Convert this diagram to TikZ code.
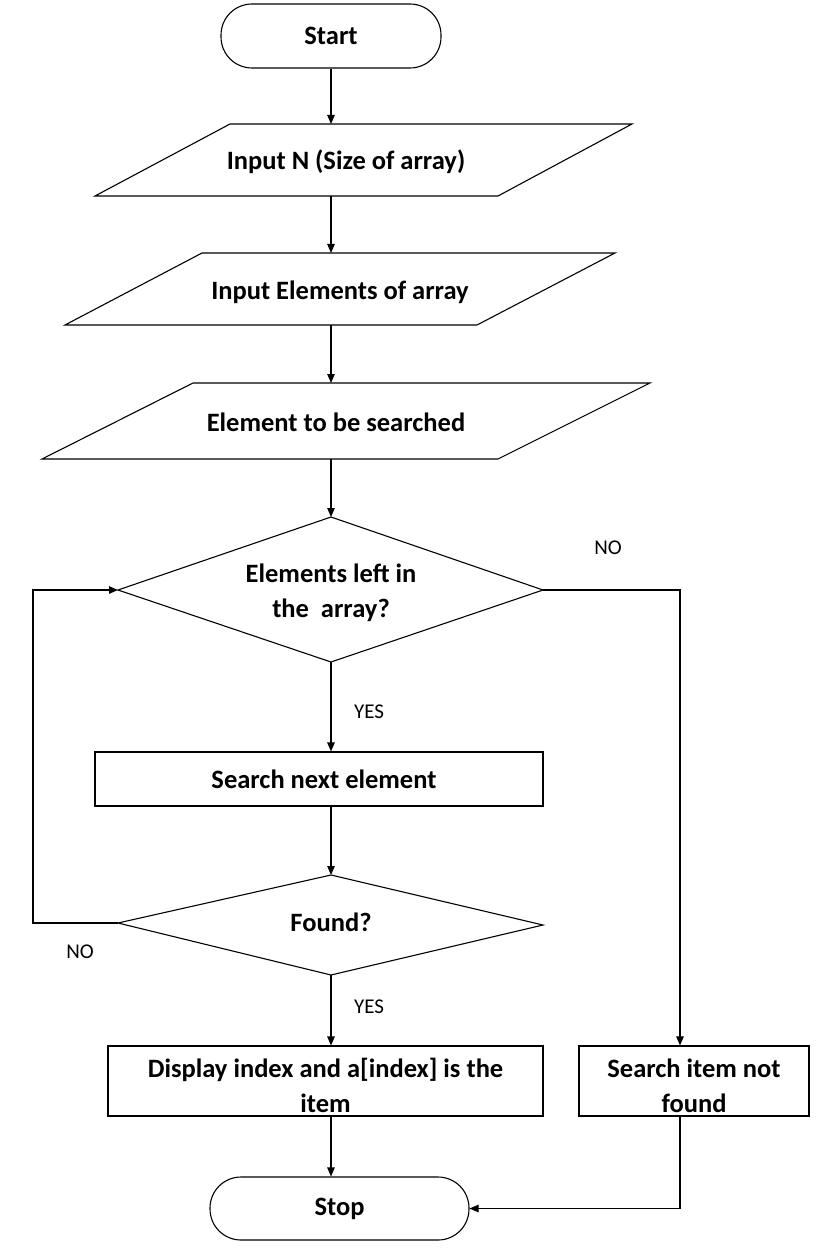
\documentclass[tikz,border=0pt]{standalone}
\usepackage{fontspec}
\setmainfont{Carlito}
\usetikzlibrary{arrows.meta}
\tikzset{
  conn/.style={line width=1.1pt},
  arr/.style={conn,-{Triangle[length=9pt,width=7.5pt]}},
  term/.style={draw,line width=1.1pt,rounded corners=31pt,font=\fontsize{26.5}{30}\selectfont\bfseries},
  procbox/.style={draw,line width=1.1pt,font=\fontsize{26.5}{35}\selectfont\bfseries,align=center,inner sep=0pt},
  iotext/.style={font=\fontsize{26.5}{30}\selectfont\bfseries,inner sep=0pt},
  iobody/.style={draw,line width=1.1pt},
  dectext/.style={font=\fontsize{26.5}{35}\selectfont\bfseries,align=center,inner sep=0pt},
  lbl/.style={font=\fontsize{21}{24}\selectfont,inner sep=0pt}
}
\newcommand{\lowerstrut}{\rule{0pt}{29pt}}
\begin{document}
\begin{tikzpicture}[x=1pt,y=-1pt]
\useasboundingbox[fill=white] (0,0) rectangle (816,1257);

% Start
\node[term,minimum width=220pt,minimum height=64pt] (start) at (331,36) {Start};

% Parallelogram 1
\draw[iobody] (230,124) -- (632,124) -- (498,196) -- (95,196) -- cycle;
\node[iotext] (in1) at (346,162) {Input N (Size of array)};
\coordinate (in1t) at (331,124);
\coordinate (in1b) at (331,196);

% Parallelogram 2
\draw[iobody] (202,253) -- (615,253) -- (477,325) -- (65,325) -- cycle;
\node[iotext] (in2) at (340,292) {Input Elements of array};
\coordinate (in2t) at (331,253);
\coordinate (in2b) at (331,325);

% Parallelogram 3
\draw[iobody] (193,383) -- (650,383) -- (498,459) -- (42,459) -- cycle;
\node[iotext] (in3) at (336,422) {Element to be searched};
\coordinate (in3t) at (331,383);
\coordinate (in3b) at (331,459);

% Decision 1
\coordinate (d1n) at (331,517);
\coordinate (d1s) at (331,662);
\coordinate (d1w) at (118,590);
\coordinate (d1e) at (543,590);
\draw[iobody] (d1n) -- (d1e) -- (d1s) -- (d1w) -- cycle;
\node[dectext] (d1) at (331,593) {Elements left in\\the\ \ array?};

% Search next element
\node[procbox,minimum width=448pt,minimum height=54pt] (sn) at (319,779) {\makebox[0pt]{\hspace{10pt}Search next element}};

% Decision 2
\coordinate (d2n) at (331,875);
\coordinate (d2s) at (331,975);
\coordinate (d2w) at (118,923);
\coordinate (d2e) at (543,925);
\draw[iobody] (d2n) -- (d2e) -- (d2s) -- (d2w) -- cycle;
\node[dectext] (d2) at (331,922) {Found?};

% Display
\node[procbox,minimum width=435pt,minimum height=70pt] (disp) at (325.5,1081) {\lowerstrut Display index and a[index] is the\\item};

% Not found
\node[procbox,minimum width=230pt,minimum height=70pt] (nf) at (694,1081) {\lowerstrut Search item not\\found};

% Stop
\node[term,minimum width=259pt,minimum height=63pt] (stop) at (339.5,1208.5) {Stop};

% Connectors
\draw[arr] (start.south) -- (in1t);
\draw[arr] (in1b) -- (in2t);
\draw[arr] (in2b) -- (in3t);
\draw[arr] (in3b) -- (d1n);
\draw[arr] (d1s) -- (d1s |- sn.north);
\draw[arr] (sn.south -| d2n) -- (d2n);
\draw[arr] (d2s) -- (d2s |- disp.north);
\draw[arr] (d2s |- disp.south) -- (d2s |- stop.north);

\coordinate (loopL) at (33,923);
\draw[arr] (d2w) -- (loopL) |- (d1w);

\coordinate (rightT) at (680,590);
\draw[arr] (d1e) -- (rightT) -- (rightT |- nf.north);
\coordinate (nfb) at (680,1116);
\draw[arr] (nfb) |- (stop.east);

% Labels
\node[lbl] (noA) at (608,548) {NO};
\node[lbl] (yesA) at (369,712) {YES};
\node[lbl] (noB) at (80,952) {NO};
\node[lbl] (yesB) at (369,1007) {YES};
\end{tikzpicture}
\end{document}
